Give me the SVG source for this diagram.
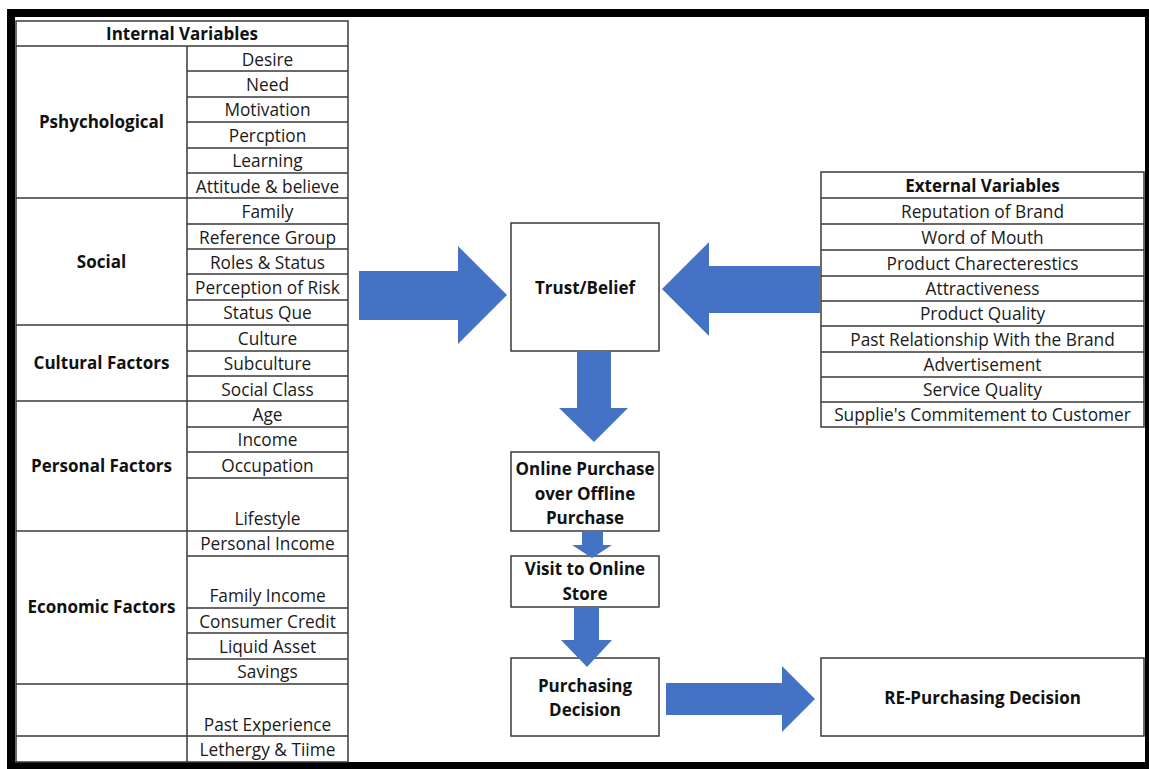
<svg xmlns="http://www.w3.org/2000/svg" width="1149" height="769" viewBox="0 0 1149 769">
<style>
.ln{stroke:#3a3a3a;stroke-width:1.5;fill:none}
.box{stroke:#3a3a3a;stroke-width:1.5;fill:#fff}
.t{font-family:"Open Sans","Noto Sans",sans-serif;font-size:17.3px;fill:#1a1a1a;text-anchor:middle}
.b{font-family:"Open Sans","Noto Sans",sans-serif;font-size:17px;font-weight:bold;fill:#111;text-anchor:middle}
.arr{fill:#4472C4}
</style>
<rect x="0" y="0" width="1149" height="769" fill="#fff"/>
<rect x="7" y="9" width="1142" height="760" fill="#000"/>
<rect x="15" y="17" width="1130" height="745" fill="#fff"/>

<g id="internal-variables">
<rect class="box" x="16" y="21" width="332" height="741"/>
<path class="ln" d="M16 46H348M16 198H348M16 325H348M16 401H348M16 531H348M16 684H348M16 736H348M187 46V762"/>
<path class="ln" d="M187 71H348M187 97H348M187 122H348M187 148H348M187 173H348M187 224H348M187 249H348M187 274H348M187 300H348M187 351H348M187 376H348M187 427H348M187 452H348M187 478H348M187 556H348M187 608H348M187 633H348M187 659H348"/>
<text class="b" x="182" y="40">Internal Variables</text>
<text class="b" x="101.5" y="128">Pshychological</text>
<text class="b" x="101.5" y="268">Social</text>
<text class="b" x="101.5" y="369">Cultural Factors</text>
<text class="b" x="101.5" y="472">Personal Factors</text>
<text class="b" x="101.5" y="613">Economic Factors</text>
<text class="t" x="267.5" y="65.5">Desire</text>
<text class="t" x="267.5" y="91">Need</text>
<text class="t" x="267.5" y="116">Motivation</text>
<text class="t" x="267.5" y="142">Percption</text>
<text class="t" x="267.5" y="167">Learning</text>
<text class="t" x="267.5" y="192.5">Attitude &amp; believe</text>
<text class="t" x="267.5" y="218">Family</text>
<text class="t" x="267.5" y="243.5">Reference Group</text>
<text class="t" x="267.5" y="268.5">Roles &amp; Status</text>
<text class="t" x="267.5" y="294">Perception of Risk</text>
<text class="t" x="267.5" y="319">Status Que</text>
<text class="t" x="267.5" y="345">Culture</text>
<text class="t" x="267.5" y="370">Subculture</text>
<text class="t" x="267.5" y="395.5">Social Class</text>
<text class="t" x="267.5" y="421">Age</text>
<text class="t" x="267.5" y="446">Income</text>
<text class="t" x="267.5" y="472">Occupation</text>
<text class="t" x="267.5" y="525">Lifestyle</text>
<text class="t" x="267.5" y="550">Personal Income</text>
<text class="t" x="267.5" y="602">Family Income</text>
<text class="t" x="267.5" y="627.5">Consumer Credit</text>
<text class="t" x="267.5" y="653">Liquid Asset</text>
<text class="t" x="267.5" y="678">Savings</text>
<text class="t" x="267.5" y="730.5">Past Experience</text>
<text class="t" x="267.5" y="756">Lethergy &amp; Tiime</text>
</g>

<g id="external-variables">
<rect class="box" x="821" y="172" width="323" height="255"/>
<path class="ln" d="M821 198H1144M821 224H1144M821 250H1144M821 276H1144M821 301H1144M821 326H1144M821 352H1144M821 377H1144M821 402H1144"/>
<text class="b" x="982.5" y="192">External Variables</text>
<text class="t" x="982.5" y="218">Reputation of Brand</text>
<text class="t" x="982.5" y="244">Word of Mouth</text>
<text class="t" x="982.5" y="270">Product Charecterestics</text>
<text class="t" x="982.5" y="295">Attractiveness</text>
<text class="t" x="982.5" y="320">Product Quality</text>
<text class="t" x="982.5" y="346">Past Relationship With the Brand</text>
<text class="t" x="982.5" y="371">Advertisement</text>
<text class="t" x="982.5" y="396">Service Quality</text>
<text class="t" x="982.5" y="421">Supplie's Commitement to Customer</text>
</g>

<g id="trust-belief">
<rect class="box" x="511" y="223" width="148" height="128"/>
<text class="b" x="585" y="294">Trust/Belief</text>
</g>

<g id="online-over-offline">
<rect class="box" x="511" y="452" width="148" height="79"/>
<text class="b" x="585" y="475">Online Purchase</text>
<text class="b" x="585" y="500">over Offline</text>
<text class="b" x="585" y="524">Purchase</text>
</g>

<g id="visit-online-store">
<rect class="box" x="511" y="556" width="148" height="51"/>
<text class="b" x="585" y="575">Visit to Online</text>
<text class="b" x="585" y="600">Store</text>
</g>

<g id="purchasing-decision">
<rect class="box" x="511" y="658" width="148" height="78"/>
<text class="b" x="585" y="692">Purchasing</text>
<text class="b" x="585" y="716">Decision</text>
</g>

<g id="re-purchasing-decision">
<rect class="box" x="821" y="658" width="323" height="78"/>
<text class="b" x="982.5" y="704">RE-Purchasing Decision</text>
</g>

<g id="connectors">
<polygon class="arr" points="359,271 458,271 458,246 507,295 458,344 458,320 359,320"/>
<polygon class="arr" points="820,266 709,266 709,242 662,289 709,336 709,313 820,313"/>
<polygon class="arr" points="577,351 611,351 611,408 628,408 594,442 559,408 577,408"/>
<polygon class="arr" points="582,531 603,531 603,545 612,545 592,558 572,545 582,545"/>
<polygon class="arr" points="574,607 599,607 599,640 612,640 587,667 561,640 574,640"/>
<polygon class="arr" points="666,683 782,683 782,666 815,699 782,732 782,715 666,715"/>
</g>
</svg>
